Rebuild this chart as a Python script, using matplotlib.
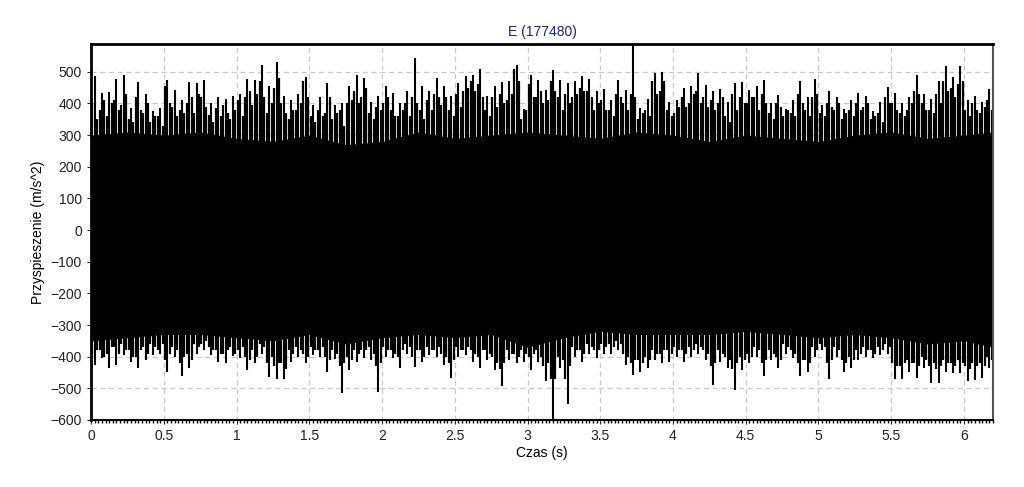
import numpy as np
import matplotlib.pyplot as plt
from matplotlib.ticker import MultipleLocator

'''
Data (read from the picture, peaks per 0.05 s bin)
'''
bin_width = 0.05  # s
t_end = 6.2       # s

# highest spike in each bin
upper_peaks = [487, 433, 435, 477, 490, 385, 468, 430, 376, 386,
               475, 444, 410, 467, 465, 475, 400, 419, 414, 425,
               430, 478, 475, 522, 454, 532, 425, 410, 430, 485,
               395, 419, 466, 395, 400, 454, 490, 481, 405, 425,
               454, 433, 400, 440, 543, 454, 440, 480, 454, 425,
               465, 487, 490, 508, 425, 454, 467, 470, 522, 381,
               490, 475, 444, 506, 475, 465, 470, 487, 477, 440,
               446, 410, 473, 444, 588, 386, 414, 497, 500, 405,
               410, 449, 454, 497, 459, 440, 446, 405, 465, 467,
               444, 454, 473, 400, 427, 381, 410, 470, 419, 478,
               395, 440, 419, 381, 410, 433, 425, 376, 405, 452,
               433, 400, 419, 490, 431, 414, 470, 519, 485, 519,
               410, 425, 405, 446]

lower_peaks = [-426, -405, -437, -426, -395, -416, -437, -410, -395, -390,
               -447, -401, -460, -437, -390, -380, -395, -416, -421, -397,
               -405, -442, -421, -390, -463, -471, -471, -416, -401, -421,
               -395, -401, -447, -408, -515, -442, -416, -405, -410, -510,
               -401, -405, -437, -390, -434, -416, -395, -401, -426, -468,
               -401, -395, -416, -437, -410, -442, -494, -410, -421, -416,
               -442, -416, -478, -600, -437, -551, -401, -416, -390, -405,
               -390, -390, -380, -426, -457, -447, -437, -410, -421, -416,
               -401, -416, -401, -390, -410, -488, -416, -437, -504, -442,
               -421, -401, -460, -410, -437, -390, -405, -460, -447, -401,
               -380, -471, -401, -447, -437, -410, -401, -405, -395, -390,
               -471, -471, -447, -468, -437, -484, -484, -447, -452, -452,
               -478, -473, -468, -437]

# smaller spikes on both sides of the highest one in each bin
upper_second = [400, 380, 360, 410, 395, 350, 420, 370, 340, 360,
                455, 390, 380, 400, 370, 420, 365, 385, 395, 350,
                410, 420, 395, 470, 370, 450, 400, 350, 380, 470,
                360, 380, 370, 350, 380, 400, 440, 420, 370, 390,
                400, 380, 360, 400, 420, 380, 410, 430, 395, 380,
                430, 440, 470, 460, 380, 420, 430, 410, 508, 350,
                460, 420, 400, 470, 420, 430, 420, 450, 440, 380,
                410, 380, 430, 400, 430, 350, 380, 470, 440, 380,
                370, 420, 400, 440, 420, 410, 400, 360, 430, 420,
                400, 420, 430, 370, 400, 360, 370, 430, 380, 420,
                370, 400, 380, 350, 380, 400, 390, 350, 370, 420,
                400, 370, 380, 440, 400, 380, 430, 470, 450, 460,
                380, 400, 370, 410]

upper_third = [350, 410, 400, 380, 430, 340, 380, 400, 360, 330,
               400, 360, 370, 420, 430, 390, 340, 360, 370, 380,
               360, 440, 430, 420, 400, 480, 370, 380, 400, 420,
               340, 360, 420, 370, 330, 410, 400, 450, 350, 380,
               420, 360, 380, 360, 400, 350, 380, 420, 420, 360,
               390, 450, 440, 420, 360, 390, 400, 430, 470, 380,
               420, 440, 410, 440, 380, 400, 430, 440, 420, 400,
               380, 360, 420, 380, 420, 370, 360, 430, 470, 360,
               390, 390, 430, 400, 390, 380, 420, 340, 380, 400,
               420, 380, 400, 350, 390, 380, 360, 400, 360, 430,
               360, 390, 400, 370, 360, 380, 400, 360, 340, 400,
               380, 360, 400, 430, 380, 370, 400, 440, 420, 470,
               360, 380, 390, 380]

lower_second = [-400, -380, -390, -370, -360, -380, -400, -370, -360, -380,
                -410, -370, -420, -390, -360, -360, -370, -380, -390, -370,
                -380, -400, -380, -360, -420, -430, -420, -380, -370, -390,
                -370, -380, -400, -380, -430, -400, -380, -380, -370, -430,
                -370, -380, -400, -360, -400, -380, -370, -380, -390, -420,
                -370, -380, -380, -400, -380, -400, -440, -380, -390, -380,
                -400, -380, -430, -470, -400, -470, -370, -380, -360, -380,
                -360, -360, -350, -390, -420, -410, -400, -380, -390, -380,
                -370, -380, -370, -360, -380, -430, -380, -400, -440, -400,
                -390, -370, -420, -380, -400, -360, -380, -420, -410, -370,
                -360, -420, -370, -410, -400, -380, -370, -380, -370, -360,
                -420, -430, -410, -420, -400, -430, -440, -410, -420, -410,
                -430, -420, -420, -400]

lower_third = [-380, -400, -370, -390, -380, -400, -380, -390, -370, -360,
               -390, -380, -400, -410, -370, -350, -380, -390, -380, -390,
               -370, -410, -400, -370, -400, -420, -440, -390, -380, -400,
               -380, -370, -410, -390, -420, -410, -390, -380, -390, -420,
               -380, -390, -380, -370, -380, -400, -380, -370, -400, -410,
               -380, -370, -390, -380, -390, -420, -420, -390, -400, -390,
               -390, -400, -420, -470, -410, -430, -380, -390, -370, -380,
               -370, -370, -360, -400, -410, -420, -410, -390, -380, -390,
               -380, -390, -380, -370, -390, -420, -390, -410, -420, -410,
               -400, -380, -410, -390, -410, -370, -390, -410, -420, -380,
               -370, -410, -380, -420, -410, -390, -380, -390, -380, -370,
               -430, -420, -420, -430, -410, -420, -430, -420, -430, -420,
               -440, -430, -430, -410]

# solid part of the signal (edge of the fully black band), every 0.25 s
core_t = [0, 0.25, 0.5, 0.75, 1.0, 1.25, 1.5, 1.75, 2.0, 2.25, 2.5, 2.75, 3.0,
          3.25, 3.5, 3.75, 4.0, 4.25, 4.5, 4.75, 5.0, 5.25, 5.5, 5.75, 6.0, 6.2]
core_upper = [300, 310, 300, 310, 290, 280, 300, 270, 280, 310, 290, 300, 310,
              300, 290, 310, 300, 280, 300, 290, 280, 300, 310, 290, 300, 310]
core_lower = [-350, -340, -330, -330, -340, -350, -330, -360, -340, -330, -340, -330, -370,
              -340, -320, -330, -330, -330, -320, -330, -340, -330, -340, -360, -350, -370]

t_bins = np.arange(len(upper_peaks)) * bin_width

'''
Plot
'''
plt.rcParams['font.family'] = ['Liberation Sans', 'DejaVu Sans']

fig = plt.figure(figsize=(10.24, 4.87), dpi=100)
ax = fig.add_axes([0.0889, 0.1376, 0.8809, 0.7721])

ax.fill_between(core_t, core_lower, core_upper, color='black', lw=0)
ax.vlines(t_bins + 0.17 * bin_width, lower_second, upper_second, color='black', lw=1.6)
ax.vlines(t_bins + 0.5 * bin_width, lower_peaks, upper_peaks, color='black', lw=1.5)
ax.vlines(t_bins + 0.83 * bin_width, lower_third, upper_third, color='black', lw=1.6)

ax.set_xlim(0, t_end)
ax.set_ylim(-600, 588)
ax.xaxis.set_major_locator(MultipleLocator(0.5))
ax.xaxis.set_minor_locator(MultipleLocator(0.025))
ax.yaxis.set_major_locator(MultipleLocator(100))
ax.set_xticklabels([f'{v:g}' for v in ax.get_xticks()])

ax.grid(True, color='#c8c8c8', linestyle=(0, (4, 3)), linewidth=0.9)
ax.set_axisbelow(True)

ax.spines['top'].set_linewidth(2)
ax.spines['left'].set_linewidth(2)
ax.spines['bottom'].set_linewidth(1.5)
ax.spines['right'].set_color('#555555')
ax.spines['right'].set_linewidth(1.5)

ax.tick_params(axis='both', labelsize=10, colors='#222222', length=3)
ax.tick_params(axis='x', which='minor', length=2, width=1, color='black')

ax.set_title('E (177480)', color='#1f1f8c', fontsize=10, pad=6)
ax.set_xlabel('Czas (s)', fontsize=10, labelpad=2)
ax.set_ylabel('Przyspieszenie (m/s^2)', fontsize=10)

fig.savefig('out.png', dpi=100)
